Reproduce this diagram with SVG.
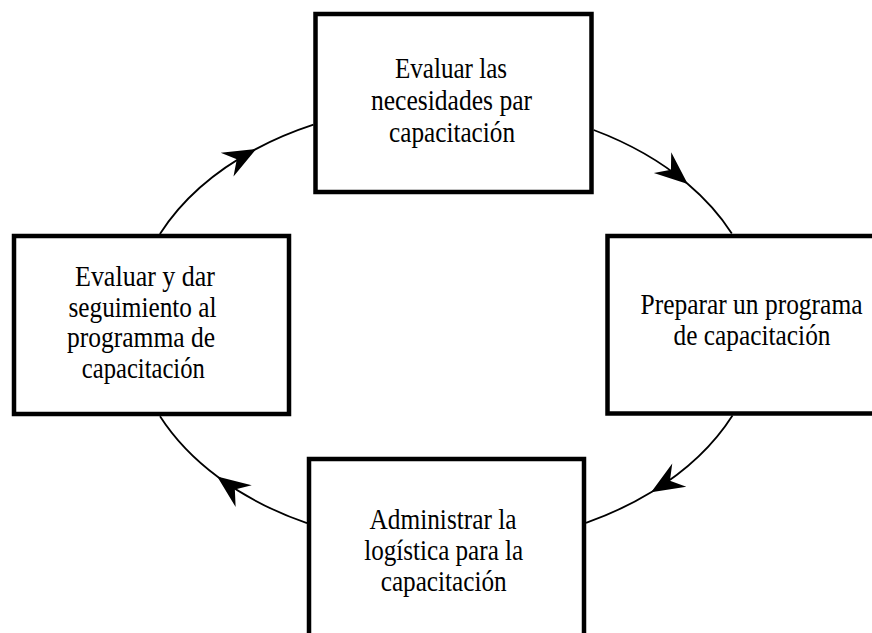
<svg xmlns="http://www.w3.org/2000/svg" width="872" height="633" viewBox="0 0 872 633">
<style>
.box{fill:#fff;stroke:#000;stroke-width:4.5}
.lbl{font-family:"Liberation Serif","DejaVu Serif",serif;font-size:29px;fill:#000;text-anchor:middle}
.conn{fill:none;stroke:#000;stroke-width:1.8}
</style>
<defs>
<marker id="ah" markerUnits="userSpaceOnUse" viewBox="-34 -15 36 30" markerWidth="36" markerHeight="30" refX="0" refY="0" orient="auto">
<path d="M1,0 L-32,-13.5 L-21,0 L-32,13.5 Z" fill="#000"/>
</marker>
</defs>
<rect width="872" height="633" fill="#fff"/>
<g id="connectors">
<path class="conn" marker-mid="url(#ah)" d="M159.9,234 A314,221 0 0 1 255.3,149.4 A314,221 0 0 1 313.5,124.7"/>
<path class="conn" marker-mid="url(#ah)" d="M593.7,130 A314,221 0 0 1 687,183.3 A314,221 0 0 1 731.8,233.5"/>
<path class="conn" marker-mid="url(#ah)" d="M732.5,415.5 A314,221 0 0 1 652,491.8 A314,221 0 0 1 586,522.8"/>
<path class="conn" marker-mid="url(#ah)" d="M307,523.2 A314,221 0 0 1 218,477 A314,221 0 0 1 160,416.2"/>
</g>
<g id="node-evaluar-necesidades">
<rect class="box" x="315.5" y="14" width="276" height="178"/>
<text class="lbl" x="451" y="78" textLength="112" lengthAdjust="spacingAndGlyphs">Evaluar las</text>
<text class="lbl" x="451.5" y="110" textLength="161" lengthAdjust="spacingAndGlyphs">necesidades par</text>
<text class="lbl" x="452" y="141.5" textLength="126" lengthAdjust="spacingAndGlyphs">capacitación</text>
</g>
<g id="node-preparar-programa">
<rect class="box" x="607.5" y="236" width="280" height="177.5"/>
<text class="lbl" x="751.5" y="314" textLength="222" lengthAdjust="spacingAndGlyphs">Preparar un programa</text>
<text class="lbl" x="752" y="345" textLength="157" lengthAdjust="spacingAndGlyphs">de capacitación</text>
</g>
<g id="node-administrar-logistica">
<rect class="box" x="309" y="459" width="275" height="200"/>
<text class="lbl" x="443" y="528.5" textLength="147" lengthAdjust="spacingAndGlyphs">Administrar la</text>
<text class="lbl" x="443.7" y="560" textLength="159" lengthAdjust="spacingAndGlyphs">logística para la</text>
<text class="lbl" x="443.7" y="591" textLength="126" lengthAdjust="spacingAndGlyphs">capacitación</text>
</g>
<g id="node-evaluar-seguimiento">
<rect class="box" x="14" y="236" width="275" height="178"/>
<text class="lbl" x="145" y="286" textLength="140" lengthAdjust="spacingAndGlyphs">Evaluar y dar</text>
<text class="lbl" x="142.5" y="316.5" textLength="148" lengthAdjust="spacingAndGlyphs">seguimiento al</text>
<text class="lbl" x="141" y="347" textLength="148" lengthAdjust="spacingAndGlyphs">programma de</text>
<text class="lbl" x="143.3" y="378" textLength="123" lengthAdjust="spacingAndGlyphs">capacitación</text>
</g>
</svg>
